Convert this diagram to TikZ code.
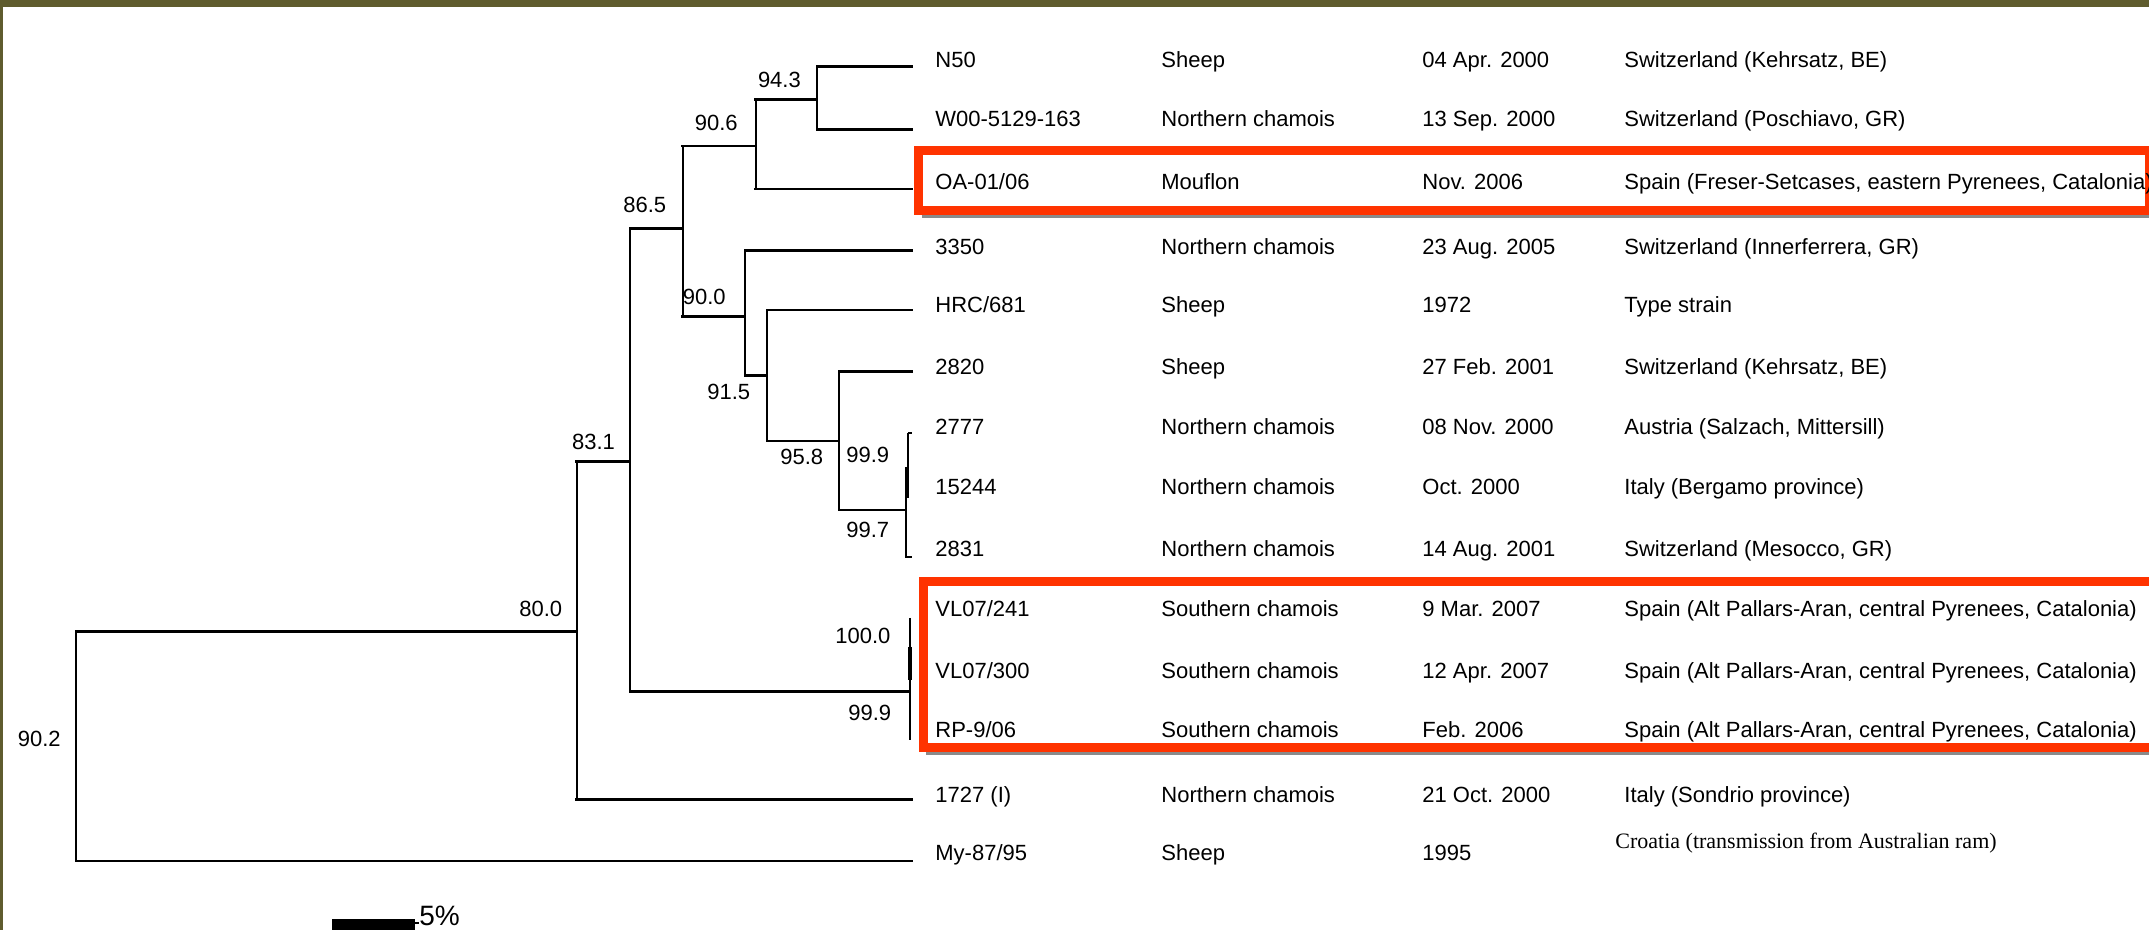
\documentclass[tikz,border=0pt]{standalone}
\usepackage{fontspec}
\setmainfont{Liberation Sans}
\newfontfamily\serifrm{Liberation Serif}
\definecolor{bordolive}{HTML}{5F5C2E}
\definecolor{boxred}{HTML}{FF3300}
\definecolor{shadowgray}{HTML}{8A8A8A}
\tikzset{
  txt/.style={font=\fontsize{11}{13}\selectfont, anchor=base west, inner sep=0pt, text=black},
  boot/.style={txt},
  hbr/.style={line width=1.3pt, line cap=rect},
  vbr/.style={line width=1pt},
  redbox/.style={draw=boxred, line width=4.5pt},
  shadowline/.style={draw=shadowgray, line width=1.5pt},
}
\begin{document}
\begin{tikzpicture}[x=0.5pt,y=-0.5pt]
\useasboundingbox (0,0) rectangle (2149,930);
\begin{scope}
\clip (0,0) rectangle (2149,930);
\fill[white] (0,0) rectangle (2149,930);
% frame
\fill[bordolive] (0,0) rectangle (2149,7);
\fill[bordolive] (0,0) rectangle (3,930);

% red highlight boxes (with shadow below)
\draw[shadowline] (921.5,216.5) -- (2149,216.5);
\draw[redbox] (918.5,150.5) rectangle (2149,210.5);
\draw[shadowline] (926,753.5) -- (2149,753.5);
\draw[redbox] (923,581.5) rectangle (2170,747.5);

% internal nodes (x of vertical line, y where parent branch attaches)
\coordinate (root) at (75.8,746);
\coordinate (n80) at (576.6,631.7);
\coordinate (n83) at (630,461.7);
\coordinate (n865) at (682.5,228.3);
\coordinate (n906) at (755.5,146);
\coordinate (n943) at (817,99.3);
\coordinate (n900) at (745,316.7);
\coordinate (n915) at (767,375.7);
\coordinate (n958) at (839,441);
\coordinate (n997) at (906,510);
\coordinate (n100) at (908,691.7);
% tips
\coordinate (t1) at (912,66.7);
\coordinate (t2) at (912,129.3);
\coordinate (t3) at (912,189);
\coordinate (t4) at (912,250.7);
\coordinate (t5) at (912,310);
\coordinate (t6) at (912,371.7);
\coordinate (t13) at (912,799.3);
\coordinate (t14) at (912,861);

% vertical lines
\draw[vbr] (root |- n80) -- (root |- t14);
\draw[vbr] (n80 |- n83) -- (n80 |- t13);
\draw[vbr] (n83 |- n865) -- (n83 |- n100);
\draw[vbr] (n865 |- n906) -- (n865 |- n900);
\draw[vbr] (n906 |- n943) -- (n906 |- t3);
\draw[vbr] (n943 |- t1) -- (n943 |- t2);
\draw[vbr] (n900 |- t4) -- (n900 |- n915);
\draw[vbr] (n915 |- t5) -- (n915 |- n958);
\draw[vbr] (n958 |- t6) -- (n958 |- n997);

% horizontal branches
\draw[hbr] (root |- n80) -- (n80);
\draw[hbr] (root |- t14) -- (t14);
\draw[hbr] (n80 |- n83) -- (n83);
\draw[hbr] (n80 |- t13) -- (t13);
\draw[hbr] (n83 |- n865) -- (n865);
\draw[hbr] (n83 |- n100) -- (n100);
\draw[hbr] (n865 |- n906) -- (n906);
\draw[hbr] (n865 |- n900) -- (n900);
\draw[hbr] (n906 |- n943) -- (n943);
\draw[hbr] (n906 |- t3) -- (t3);
\draw[hbr] (n943 |- t1) -- (t1);
\draw[hbr] (n943 |- t2) -- (t2);
\draw[hbr] (n900 |- t4) -- (t4);
\draw[hbr] (n900 |- n915) -- (n915);
\draw[hbr] (n915 |- t5) -- (t5);
\draw[hbr] (n915 |- n958) -- (n958);
\draw[hbr] (n958 |- t6) -- (t6);
\draw[hbr] (n958 |- n997) -- (n997);

% tiny terminal clades
\coordinate (c1a) at (906,467);
\coordinate (c1b) at (906,557);
\coordinate (c2a) at (908,433);
\coordinate (c2b) at (908,498);
\draw[vbr] (c1a) -- (c1b) -- ++(6,0);
\draw[line width=2pt] (907,467) -- (907,498);
\draw[vbr] (c2a) -- (c2b);
\draw[vbr] (c2a) -- ++(4,0);
\coordinate (c3a) at (910,618);
\coordinate (c3b) at (910,740);
\draw[vbr] (c3a) -- (c3b);
\draw[line width=2pt] (909.5,647) -- (909.5,680);

% bootstrap values
\node[boot] (b943) at (757.6,88) {94.3};
\node[boot] (b906) at (694.5,131) {90.6};
\node[boot] (b865) at (623,213) {86.5};
\node[boot] (b900) at (682.5,305) {90.0};
\node[boot] (b915) at (707,400) {91.5};
\node[boot] (b831) at (571.7,450) {83.1};
\node[boot] (b958) at (780,465) {95.8};
\node[boot] (b999a) at (846,463) {99.9};
\node[boot] (b997) at (846,538) {99.7};
\node[boot] (b100) at (835,644) {100.0};
\node[boot] (b999b) at (848,720) {99.9};
\node[boot] (b800) at (519,617) {80.0};
\node[boot] (b902) at (17.5,747) {90.2};

% isolate table
\node[txt] (id1) at (935,68) {N50};
\node[txt] (sp1) at (1161,68) {Sheep};
\node[txt] (dt1) at (1422,68) {04 Apr. 2000};
\node[txt] (co1) at (1624,68) {Switzerland (Kehrsatz, BE)};

\node[txt] (id2) at (935,127) {W00-5129-163};
\node[txt] (sp2) at (1161,127) {Northern chamois};
\node[txt] (dt2) at (1422,127) {13 Sep. 2000};
\node[txt] (co2) at (1624,127) {Switzerland (Poschiavo, GR)};

\node[txt] (id3) at (935,190) {OA-01/06};
\node[txt] (sp3) at (1161,190) {Mouflon};
\node[txt] (dt3) at (1422,190) {Nov. 2006};
\node[txt] (co3) at (1624,190) {Spain (Freser-Setcases, eastern Pyrenees, Catalonia)};

\node[txt] (id4) at (935,255) {3350};
\node[txt] (sp4) at (1161,255) {Northern chamois};
\node[txt] (dt4) at (1422,255) {23 Aug. 2005};
\node[txt] (co4) at (1624,255) {Switzerland (Innerferrera, GR)};

\node[txt] (id5) at (935,313) {HRC/681};
\node[txt] (sp5) at (1161,313) {Sheep};
\node[txt] (dt5) at (1422,313) {1972};
\node[txt] (co5) at (1624,313) {Type strain};

\node[txt] (id6) at (935,375) {2820};
\node[txt] (sp6) at (1161,375) {Sheep};
\node[txt] (dt6) at (1422,375) {27 Feb. 2001};
\node[txt] (co6) at (1624,375) {Switzerland (Kehrsatz, BE)};

\node[txt] (id7) at (935,435) {2777};
\node[txt] (sp7) at (1161,435) {Northern chamois};
\node[txt] (dt7) at (1422,435) {08 Nov. 2000};
\node[txt] (co7) at (1624,435) {Austria (Salzach, Mittersill)};

\node[txt] (id8) at (935,495) {15244};
\node[txt] (sp8) at (1161,495) {Northern chamois};
\node[txt] (dt8) at (1422,495) {Oct. 2000};
\node[txt] (co8) at (1624,495) {Italy (Bergamo province)};

\node[txt] (id9) at (935,557) {2831};
\node[txt] (sp9) at (1161,557) {Northern chamois};
\node[txt] (dt9) at (1422,557) {14 Aug. 2001};
\node[txt] (co9) at (1624,557) {Switzerland (Mesocco, GR)};

\node[txt] (id10) at (935,617) {VL07/241};
\node[txt] (sp10) at (1161,617) {Southern chamois};
\node[txt] (dt10) at (1422,617) {9 Mar. 2007};
\node[txt] (co10) at (1624,617) {Spain (Alt Pallars-Aran, central Pyrenees, Catalonia)};

\node[txt] (id11) at (935,678) {VL07/300};
\node[txt] (sp11) at (1161,678) {Southern chamois};
\node[txt] (dt11) at (1422,678) {12 Apr. 2007};
\node[txt] (co11) at (1624,678) {Spain (Alt Pallars-Aran, central Pyrenees, Catalonia)};

\node[txt] (id12) at (935,737) {RP-9/06};
\node[txt] (sp12) at (1161,737) {Southern chamois};
\node[txt] (dt12) at (1422,737) {Feb. 2006};
\node[txt] (co12) at (1624,737) {Spain (Alt Pallars-Aran, central Pyrenees, Catalonia)};

\node[txt] (id13) at (935,802) {1727 (I)};
\node[txt] (sp13) at (1161,802) {Northern chamois};
\node[txt] (dt13) at (1422,802) {21 Oct. 2000};
\node[txt] (co13) at (1624,802) {Italy (Sondrio province)};

\node[txt] (id14) at (935,860) {My-87/95};
\node[txt] (sp14) at (1161,860) {Sheep};
\node[txt] (dt14) at (1422,860) {1995};
\node[txt, font=\serifrm\fontsize{11}{13}\selectfont] (co14) at (1615,848) {Croatia (transmission from Australian ram)};

% scale bar
\fill (331.7,919) rectangle (415,933);
\draw[line width=1.2pt] (415,923) -- (419,923);
\node[txt, font=\fontsize{14}{16}\selectfont] (scale) at (419,925) {5\%};
\end{scope}
\end{tikzpicture}
\end{document}
